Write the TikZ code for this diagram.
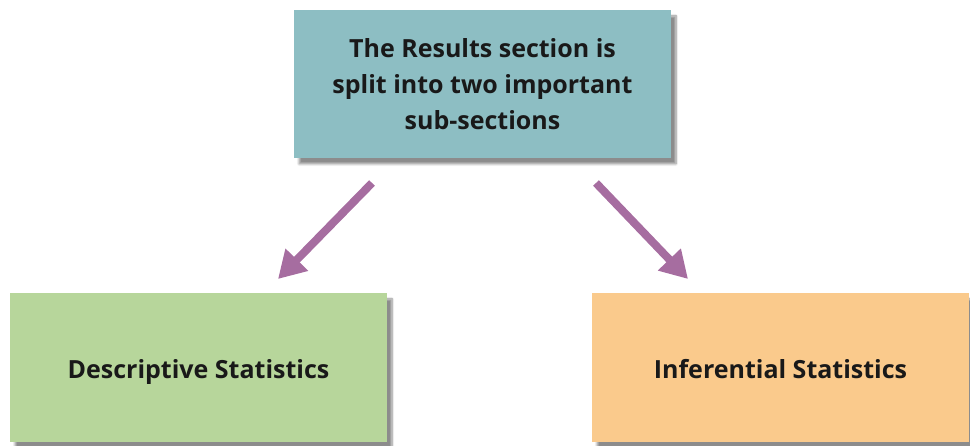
\documentclass[tikz,border=0pt]{standalone}
\usepackage{fontspec}
\setmainfont{Open Sans}
\usetikzlibrary{shadows.blur,arrows.meta}
\definecolor{teal1}{HTML}{8DBEC3}
\definecolor{green1}{HTML}{B7D69B}
\definecolor{orange1}{HTML}{FACA8C}
\definecolor{purp}{HTML}{A66DA0}
\tikzset{
  box/.style={minimum width=377pt, minimum height=148pt, inner sep=0pt, align=center,
    font=\fontsize{25}{36}\selectfont\bfseries, text=black!90,
    blur shadow={shadow xshift=5pt, shadow yshift=-6pt, shadow blur steps=8, shadow opacity=45}},
  onebox/.style={box, minimum height=149pt, text height=28pt, text depth=5pt},
  arr/.style={draw=purp, line width=8pt, -{Triangle[width=30pt,length=27pt]}}
}
\begin{document}
\begin{tikzpicture}[x=1pt,y=1pt]
\useasboundingbox (0,0) rectangle (970,446);
\node[box, fill=teal1] (top) at (482.5,362) {The Results section is\\split into two important\\sub-sections};
\node[onebox, fill=green1] (desc) at (198.5,78.5) {Descriptive Statistics};
\node[onebox, fill=orange1] (inf) at (780.5,78.5) {Inferential Statistics};
\coordinate (l1) at (372,263);
\coordinate (l2) at (278,167);
\coordinate (r1) at (596,263);
\coordinate (r2) at (688,167);
\draw[arr] (l1) -- (l2);
\draw[arr] (r1) -- (r2);
\end{tikzpicture}
\end{document}
